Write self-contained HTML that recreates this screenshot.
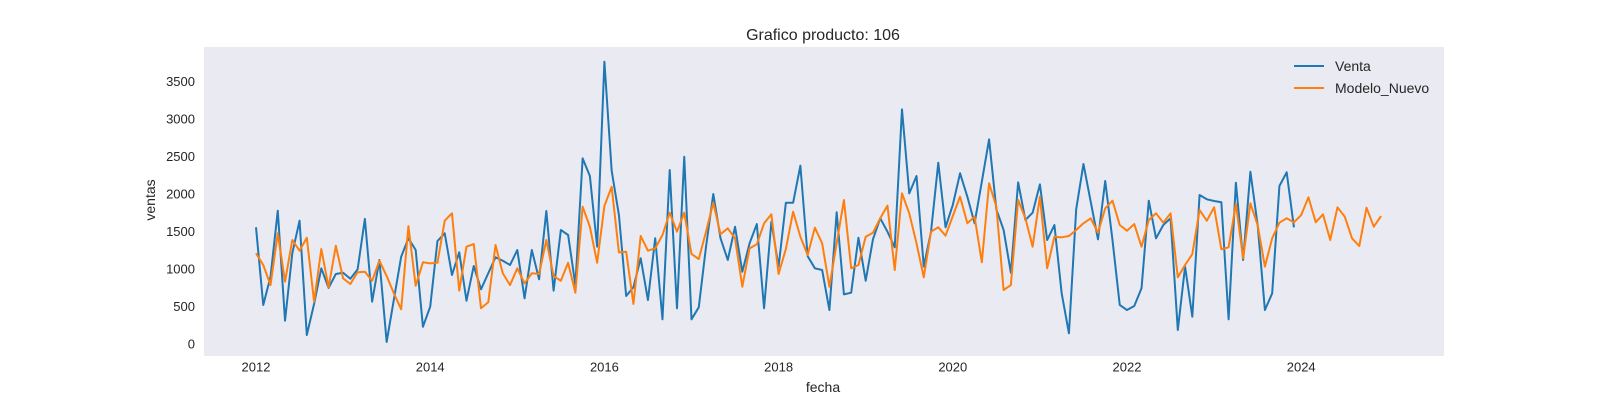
<!DOCTYPE html>
<html><head><meta charset="utf-8"><style>
html,body{margin:0;padding:0;background:#fff;}
svg{display:block;font-family:"Liberation Sans",Arial,sans-serif;}
</style></head><body>
<svg id="chart" width="1600" height="400" viewBox="0 0 1600 400">
<rect x="204" y="47" width="1240" height="309" fill="#eaeaf2"/>
<text x="823" y="40" text-anchor="middle" font-size="16" fill="#262626">Grafico producto: 106</text>
<text x="823" y="387" text-anchor="middle" dominant-baseline="central" font-size="14" fill="#262626">fecha</text>
<text transform="translate(150,200) rotate(-90)" text-anchor="middle" dominant-baseline="central" font-size="14" fill="#262626">ventas</text>
<g id="xt"></g>
<g id="yt"></g>
<g id="series"></g>
<g>
<line x1="1294" y1="66" x2="1324" y2="66" stroke="#1f77b4" stroke-width="2"/>
<text x="1335" y="66" dominant-baseline="central" font-size="14" fill="#262626">Venta</text>
<line x1="1294" y1="88" x2="1324" y2="88" stroke="#ff7f0e" stroke-width="2"/>
<text x="1335" y="88" dominant-baseline="central" font-size="14" fill="#262626">Modelo_Nuevo</text>
</g>
</svg>
<script>
const startYear = 2012;
const xTickLabels = [2012, 2014, 2016, 2018, 2020, 2022, 2024];
const yTickLabels = [0, 500, 1000, 1500, 2000, 2500, 3000, 3500];
const ventaValues = [1556,520,897,1776,311,1209,1644,120,534,1009,747,933,950,870,995,1667,564,1120,27,596,1163,1409,1253,230,497,1372,1476,920,1222,577,1040,729,943,1156,1110,1053,
1253,609,1253,863,1773,711,1520,1453,786,2475,2239,1297,3763,2310,1719,640,756,1143,586,1409,329,2319,476,2496,329,489,1297,2000,1409,1120,1563,963,1342,1599,476,
1630,1031,1883,1883,2377,1172,1009,986,453,1756,662,684,1417,843,1395,1676,1497,1289,3128,2008,2239,1031,1497,2416,1556,1853,2276,1964,1609,2164,2728,1795,1520,950,2155,1653,
1750,2128,1386,1586,675,143,1795,2399,1897,1395,2173,1386,520,453,507,743,1910,1409,1586,1676,187,1031,364,1986,1929,1906,1889,329,2150,1120,2296,1586,453,675,2106,2289,1555];
const modeloValues = [1209,1053,786,1476,831,1386,1244,1417,564,1266,756,1310,875,800,956,963,843,1110,906,675,462,1572,777,1089,1075,1083,1644,1742,711,1297,1333,476,556,1320,943,786,
1009,809,943,933,1386,906,843,1083,684,1830,1563,1083,1840,2096,1222,1230,534,1440,1244,1275,1453,1750,1497,1750,1199,1133,1497,1883,1463,1542,1409,763,1275,1329,1609,
1729,933,1266,1764,1430,1186,1551,1342,763,1342,1919,1009,1053,1430,1483,1676,1844,986,2008,1742,1342,889,1497,1556,1444,1706,1964,1609,1697,1089,2142,1830,720,786,1919,1676,
1297,1964,1009,1430,1422,1440,1520,1609,1676,1483,1808,1910,1586,1510,1599,1297,1653,1742,1617,1742,889,1053,1199,1786,1644,1822,1263,1289,1866,1143,1876,1586,1031,1409,1617,1676,
1622,1719,1956,1622,1729,1386,1822,1697,1409,1306,1817,1564,1706];

const NS = "http://www.w3.org/2000/svg";
function xScale(yearFrac){ return 256 + (yearFrac - 2012) * 87.1; }
function yScale(v){ return 344 - v / 13.33; }
function monthX(i){ return xScale(startYear + i / 12); }

const xt = document.getElementById('xt');
xTickLabels.forEach(function(yr){
  const t = document.createElementNS(NS,'text');
  t.setAttribute('x', xScale(yr)); t.setAttribute('y', 367);
  t.setAttribute('text-anchor','middle'); t.setAttribute('dominant-baseline','central');
  t.setAttribute('font-size','13'); t.setAttribute('fill','#262626');
  t.textContent = yr;
  
  
  xt.appendChild(t);
});
const yt = document.getElementById('yt');
yTickLabels.forEach(function(v){
  const t = document.createElementNS(NS,'text');
  t.setAttribute('x', 195); t.setAttribute('y', yScale(v));
  t.setAttribute('text-anchor','end'); t.setAttribute('dominant-baseline','central');
  t.setAttribute('font-size','13'); t.setAttribute('fill','#262626');
  t.textContent = v;
  
  
  yt.appendChild(t);
});
function drawLine(vals, color, name){
  const p = document.createElementNS(NS,'polyline');
  p.setAttribute('points', vals.map(function(v,i){ return monthX(i).toFixed(2)+','+yScale(v).toFixed(2); }).join(' '));
  p.setAttribute('fill','none'); p.setAttribute('stroke',color);
  p.setAttribute('stroke-width','2'); p.setAttribute('stroke-linejoin','round');
  
  
  document.getElementById('series').appendChild(p);
}
drawLine(ventaValues, '#1f77b4', 'venta-line');
drawLine(modeloValues, '#ff7f0e', 'modelo-nuevo-line');
</script>
</body></html>
